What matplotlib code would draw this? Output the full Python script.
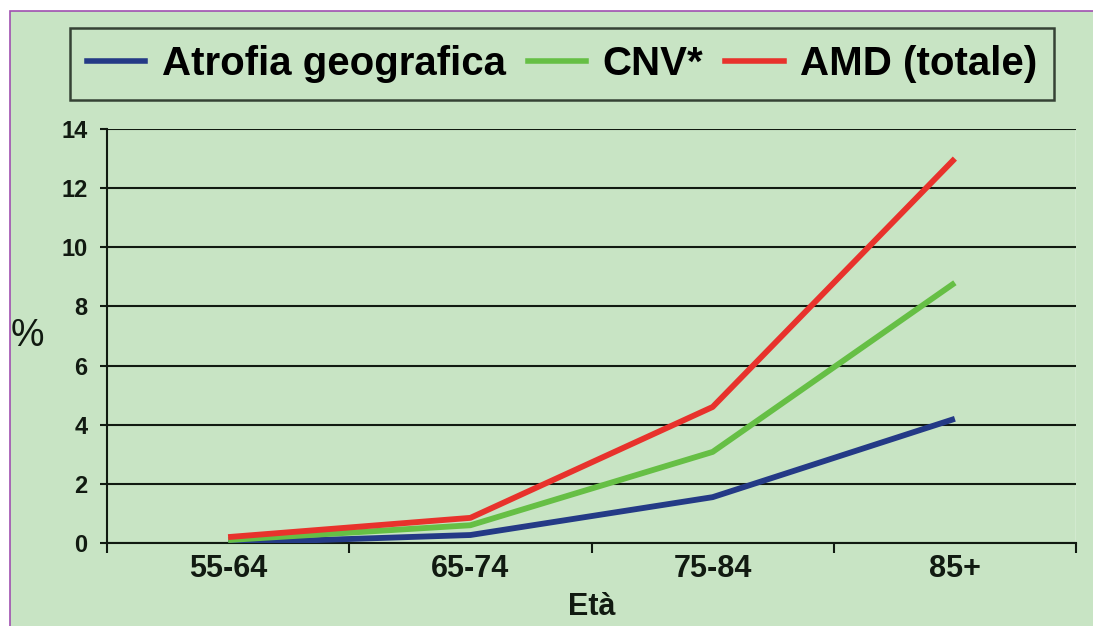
import matplotlib.pyplot as plt
from matplotlib.lines import Line2D

eta = ["55-64", "65-74", "75-84", "85+"]
atrofia = [0.0, 0.27, 1.55, 4.2]
cnv = [0.1, 0.6, 3.08, 8.8]
amd = [0.2, 0.85, 4.6, 13.0]

bg = "#c8e4c4"
ink = "#111a11"
font = ["Liberation Sans", "DejaVu Sans"]
plt.rcParams["font.family"] = font

fig = plt.figure(figsize=(10.93, 6.26), dpi=100)
fig.patch.set_facecolor("white")
# green panel with the thin purple frame
panel = plt.Rectangle((10 / 1093, -0.01), 1.0, 1 - 11 / 626 + 0.01, transform=fig.transFigure,
                      facecolor=bg, edgecolor="#a050b0", linewidth=1.2, zorder=-10)
fig.patches.append(panel)

ax = fig.add_axes([107 / 1093, 83 / 626, 969 / 1093, 414 / 626])
ax.set_facecolor(bg)

x = range(len(eta))
line_kw = dict(lw=4.2, solid_joinstyle="round", solid_capstyle="butt", zorder=3)
ax.plot(x, atrofia, color="#243a86", **line_kw)
ax.plot(x, cnv, color="#66bf45", **line_kw)
ax.plot(x, amd, color="#e8322c", **line_kw)

ax.set_xlim(-0.5, len(eta) - 0.5)
ax.set_ylim(0, 14)
ax.set_yticks(range(0, 15, 2))
ax.set_xticks([i - 0.5 for i in range(len(eta) + 1)])
ax.set_xticklabels([])
ax.set_xticks(list(x), minor=True)
ax.set_xticklabels(eta, minor=True, fontsize=22, fontweight="bold", color=ink)
ax.tick_params(axis="x", which="minor", length=0, pad=8)
ax.tick_params(axis="x", which="major", direction="out", length=7, width=1.5, color=ink)
ax.tick_params(axis="y", direction="out", length=5, width=1.5, color=ink,
               labelsize=17, pad=9)
for lab in ax.get_yticklabels():
    lab.set_fontweight("bold")
    lab.set_color(ink)

ax.grid(axis="y", color=ink, linewidth=1.5, zorder=1)
for side in ["top", "right"]:
    ax.spines[side].set_visible(False)
ax.spines["left"].set_color(ink)
ax.spines["left"].set_linewidth(1.5)
ax.spines["bottom"].set_color(ink)
ax.spines["bottom"].set_linewidth(1.5)
ax.axvline(len(eta) - 0.5, color="white", lw=1, zorder=0)

ax.set_ylabel("%", rotation=0, fontsize=27, color=ink, labelpad=24, va="center")
ax.set_xlabel("Età", fontsize=22, fontweight="bold", color=ink, labelpad=6)

handles = [
    Line2D([], [], color="#243a86", lw=4),
    Line2D([], [], color="#66bf45", lw=4),
    Line2D([], [], color="#e8322c", lw=4),
]
leg = fig.legend(handles, ["Atrofia geografica", "CNV*", "AMD (totale)"],
                 loc="center", bbox_to_anchor=(562 / 1093, 1 - 64 / 626), ncol=3,
                 frameon=True, fancybox=False, handlelength=1.45, handletextpad=0.4,
                 columnspacing=0.55, borderpad=0.42, borderaxespad=0,
                 prop={"weight": "bold", "size": 29})
leg.get_frame().set_facecolor(bg)
leg.get_frame().set_edgecolor(ink)
leg.get_frame().set_linewidth(1.8)

fig.savefig("out.png", dpi=100, facecolor=fig.get_facecolor())
